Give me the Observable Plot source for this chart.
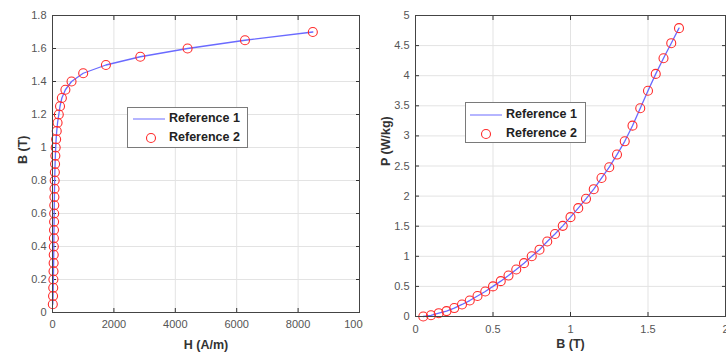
<!DOCTYPE html>
<html>
<head>
<meta charset="utf-8">
<script src="https://cdn.jsdelivr.net/npm/d3@7"></script>
<script src="https://cdn.jsdelivr.net/npm/@observablehq/plot@0.6"></script>
<style>
  html, body { margin: 0; padding: 0; background: #fff; overflow: hidden; }
  #wrap { position: relative; width: 726px; height: 354px; overflow: hidden; font-family: "Liberation Sans", Arial, sans-serif; }
  .panel { position: absolute; top: 0; overflow: hidden; }
  .panel svg { max-width: none !important; }
  .legend { position: absolute; background: #fff; border: 1px solid #7a7a7a; box-sizing: border-box; }
  .legend svg { position: absolute; left: 0; top: 0; }
  .legend .t { position: absolute; font-weight: bold; font-size: 12.5px; color: #222; white-space: nowrap; }
</style>
</head>
<body>
<div id="wrap"></div>
<script>
// ---- Data ----
const bhB = [0.05,0.1,0.15,0.2,0.25,0.3,0.35,0.4,0.45,0.5,0.55,0.6,0.65,0.7,0.75,0.8,0.85,0.9,0.95,1.0,1.05,1.1,1.15,1.2,1.25,1.3,1.35,1.4,1.45,1.5,1.55,1.6,1.65,1.7];
const bhH = [10,18,24,29,33,37,40,43,46,49,52,55,58,62,66,71,77,84,93,104,118,138,165,205,245,305,420,620,1000,1740,2860,4400,6270,8480];

const pB = [0.05,0.1,0.15,0.2,0.25,0.3,0.35,0.4,0.45,0.5,0.55,0.6,0.65,0.7,0.75,0.8,0.85,0.9,0.95,1.0,1.05,1.1,1.15,1.2,1.25,1.3,1.35,1.4,1.45,1.5,1.55,1.6,1.65,1.7];
const pP = [0.0,0.02,0.055,0.09,0.14,0.2,0.265,0.34,0.415,0.5,0.587,0.68,0.78,0.886,1.0,1.11,1.245,1.37,1.506,1.65,1.8,1.955,2.115,2.3,2.48,2.69,2.91,3.17,3.46,3.75,4.03,4.29,4.54,4.79];

const leftXTicks = [0,2000,4000,6000,8000,10000];
const leftYTicks = [0,0.2,0.4,0.6,0.8,1,1.2,1.4,1.6,1.8];
const rightXTicks = [0,0.5,1,1.5,2];
const rightYTicks = [0,0.5,1,1.5,2,2.5,3,3.5,4,4.5,5];

const seriesNames = ["Reference 1", "Reference 2"];
const titles = {lx: "H (A/m)", ly: "B (T)", rx: "B (T)", ry: "P (W/kg)"};

const lineColor = "#6a6aff";
const dotColor = "#ff2b2b";
const tickColor = "#555";

function panel({xs, ys, xDomain, yDomain, xTicks, yTicks, xLabel, yLabel, width, height, margins, xLabelDy, xPad}) {
  const data = xs.map((x, i) => ({x, y: ys[i]}));
  const [mt, mr, mb, ml] = margins;
  const svg = Plot.plot({
    width, height,
    marginTop: mt, marginRight: mr, marginBottom: mb, marginLeft: ml,
    style: {fontFamily: "'Liberation Sans', Arial, sans-serif", fontSize: "11px", color: tickColor, background: "#fff"},
    x: {domain: xDomain},
    y: {domain: yDomain},
    marks: [
      Plot.gridX(xTicks, {stroke: "#e3e3e3", strokeOpacity: 1}),
      Plot.gridY(yTicks, {stroke: "#e3e3e3", strokeOpacity: 1}),
      Plot.axisX(xTicks, {tickSize: 0, tickPadding: xPad, tickFormat: d => String(d), label: null, fill: tickColor, fontSize: 11}),
      Plot.axisY(yTicks, {tickSize: 0, tickPadding: 6, tickFormat: d => String(d), label: null, fill: tickColor, fontSize: 11}),
      Plot.axisX(xTicks, {tickSize: -4, text: null, label: null, stroke: "#333"}),
      Plot.axisX(xTicks, {anchor: "top", tickSize: -4, text: null, label: null, stroke: "#333"}),
      Plot.axisY(yTicks, {tickSize: -4, text: null, label: null, stroke: "#333"}),
      Plot.axisY(yTicks, {anchor: "right", tickSize: -4, text: null, label: null, stroke: "#333"}),
      Plot.line(data, {x: "x", y: "y", stroke: lineColor, strokeWidth: 1.3}),
      Plot.dot(data, {x: "x", y: "y", r: 4.5, stroke: dotColor, strokeWidth: 1.1, fill: "none"}),
      Plot.frame({stroke: "#444", strokeWidth: 1}),
      Plot.text([xLabel], {frameAnchor: "bottom", dy: xLabelDy, fontWeight: "bold", fontSize: 12.5, fill: "#333"}),
      Plot.text([yLabel], {frameAnchor: "left", dx: -(ml - 22), rotate: -90, fontWeight: "bold", fontSize: 12.5, fill: "#333"})
    ]
  });
  svg.style.maxWidth = "none";
  return svg;
}

function legend(parent, left, top, w, h, lineX1, lineX2, lineY, circX, circY, textX) {
  const div = document.createElement("div");
  div.className = "legend";
  Object.assign(div.style, {left: left + "px", top: top + "px", width: w + "px", height: h + "px"});
  const svg = d3.create("svg").attr("width", w).attr("height", h);
  svg.append("line").attr("x1", lineX1).attr("x2", lineX2).attr("y1", lineY).attr("y2", lineY)
    .attr("stroke", "#a3a3ff").attr("stroke-width", 1.6);
  svg.append("circle").attr("cx", circX).attr("cy", circY).attr("r", 4.5)
    .attr("fill", "none").attr("stroke", dotColor).attr("stroke-width", 1.1);
  div.appendChild(svg.node());
  seriesNames.forEach((n, i) => {
    const t = document.createElement("div");
    t.className = "t";
    t.textContent = n;
    Object.assign(t.style, {left: textX + "px", top: ((i === 0 ? lineY : circY) - 8) + "px"});
    div.appendChild(t);
  });
  parent.appendChild(div);
}

const wrap = document.getElementById("wrap");

const leftDiv = document.createElement("div");
leftDiv.className = "panel";
Object.assign(leftDiv.style, {left: "0px", width: "363px", height: "354px"});
leftDiv.appendChild(panel({
  xs: bhH, ys: bhB, xDomain: [0, 10000], yDomain: [0, 1.8],
  xTicks: leftXTicks, yTicks: leftYTicks, xLabel: titles.lx, yLabel: titles.ly,
  width: 380, height: 354, margins: [15, 21, 42, 52], xLabelDy: 36, xPad: 8
}));
wrap.appendChild(leftDiv);

const rightDiv = document.createElement("div");
rightDiv.className = "panel";
Object.assign(rightDiv.style, {left: "363px", width: "363px", height: "354px"});
rightDiv.appendChild(panel({
  xs: pB, ys: pP, xDomain: [0, 2], yDomain: [0, 5],
  xTicks: rightXTicks, yTicks: rightYTicks, xLabel: titles.rx, yLabel: titles.ry,
  width: 380, height: 354, margins: [15, 18, 38, 52], xLabelDy: 31, xPad: 9
}));
wrap.appendChild(rightDiv);

legend(wrap, 127, 107, 121, 41, 5, 37, 11, 23, 30, 41);
legend(wrap, 465, 102, 121, 41, 4, 36, 12, 20, 31, 40);
</script>
</body>
</html>
